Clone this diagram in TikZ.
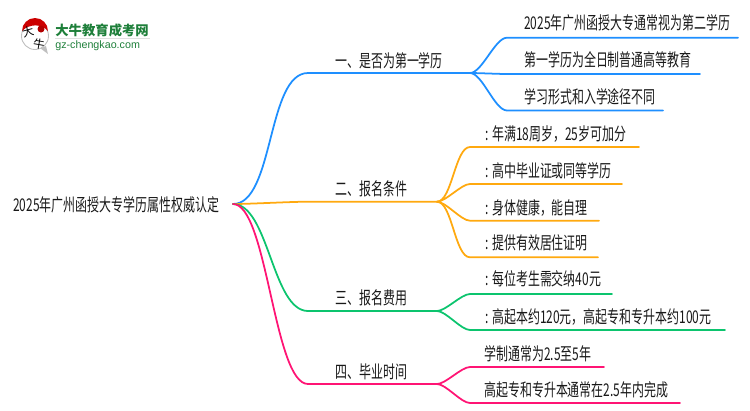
\documentclass[tikz,border=0pt]{standalone}
\usepackage{fontspec}
\setmainfont[FakeStretch=0.68]{Noto Sans CJK SC}
\newfontfamily\logofont{Noto Sans CJK SC}
\newfontfamily\latinfont{Liberation Sans}
\usepackage{tikz}
\definecolor{mapblue}{HTML}{1E8FFF}
\definecolor{maporange}{HTML}{FFA90F}
\definecolor{mapgreen}{HTML}{0CC46E}
\definecolor{mappink}{HTML}{FF1474}
\definecolor{logogreen}{HTML}{1E7F3A}

\begin{document}
\begin{tikzpicture}[x=0.02cm,y=-0.02cm]
            \tikzset{txt/.style = {anchor=west, inner sep=0pt, font=\fontsize{10pt}{12pt}\selectfont, text=black!90}}
            \tikzset{edge/.style = {line width=1pt, line cap=round}}
            \tikzset{fork/.style = {out=0, in=180, looseness=0.6}}
            \useasboundingbox (0,0) rectangle (750,410);
            % logo
            \fill[black!25] (40,48) -- (48,54) -- (46,46) -- cycle;
            \draw[black!25,fill=white,line width=0.5pt] (35,36) circle (13.5);
            \fill[red!80!black] (22,31) arc (180:360:13) .. controls (42,24) and (30,23) .. (22,31) -- cycle;
            \fill[red!70!black] (41,29) circle (3.5);
            \node[inner sep=0pt, rotate=15, font=\logofont\fontsize{6.5pt}{7pt}\selectfont] (logoa) at (28,32) {大};
            \node[inner sep=0pt, rotate=-10, font=\logofont\fontsize{6.5pt}{7pt}\selectfont] (logob) at (39,44) {牛};
            \node[anchor=west, inner sep=0pt, text=logogreen, font=\logofont\bfseries\fontsize{7.6pt}{8pt}\selectfont] (logotitle) at (55,30) {大牛教育成考网};
            \node[anchor=west, inner sep=0pt, text=logogreen, font=\latinfont\fontsize{6.1pt}{8pt}\selectfont] (logourl) at (55,45.5) {gz-chengkao.com};
            \draw[black!12,line width=0.6pt] (55,38.5) -- (150,38.5);
            % root and branches
            \node[txt] (root) at (13,205) {2025年广州函授大专学历属性权威认定};
            \node[txt] (one) at (335,61) {一、是否为第一学历};
            \node[txt] (two) at (335,189) {二、报名条件};
            \node[txt] (three) at (335,298) {三、报名费用};
            \node[txt] (four) at (335,372) {四、毕业时间};
            % leaves
            \node[txt] (a) at (524,23) {2025年广州函授大专通常视为第二学历};
            \node[txt] (b) at (524,60) {第一学历为全日制普通高等教育};
            \node[txt] (c) at (524,97) {学习形式和入学途径不同};
            \node[txt] (d) at (485,134) {: 年满18周岁，25岁可加分};
            \node[txt] (e) at (485,171) {: 高中毕业证或同等学历};
            \node[txt] (f) at (485,208) {: 身体健康，能自理};
            \node[txt] (g) at (485,243) {: 提供有效居住证明};
            \node[txt] (h) at (485,279) {: 每位考生需交纳40元};
            \node[txt] (i) at (485,317) {: 高起本约120元，高起专和专升本约100元};
            \node[txt] (j) at (484,354) {学制通常为2.5至5年};
            \node[txt] (k) at (484,390) {高起专和专升本通常在2.5年内完成};
            % line points
            \coordinate (r) at (233,204);
            \coordinate (onel) at (308,73);   \coordinate (oner) at (470,73);
            \coordinate (twol) at (308,201.7);  \coordinate (twor) at (437,201.7);
            \coordinate (threel) at (308,311); \coordinate (threer) at (437,311);
            \coordinate (fourl) at (308,384);  \coordinate (fourr) at (437,384);
            \coordinate (as) at (507,37.7);  \coordinate (ae) at (738,37.7);
            \coordinate (bs) at (507,74);    \coordinate (be) at (700,74);
            \coordinate (cs) at (507,110.5); \coordinate (ce) at (663,110.5);
            \coordinate (ds) at (470,147);   \coordinate (de) at (639,147);
            \coordinate (es) at (470,184);   \coordinate (ee) at (622,184);
            \coordinate (fs) at (470,220.7); \coordinate (fe) at (599,220.7);
            \coordinate (gs) at (470,257.3); \coordinate (ge) at (598,257.3);
            \coordinate (hs) at (470,294);   \coordinate (he) at (612,294);
            \coordinate (is) at (470,330);   \coordinate (ie) at (725,330);
            \coordinate (js) at (470,367);   \coordinate (je) at (604,367);
            \coordinate (ks) at (470,403);   \coordinate (ke) at (680,403);
            % edges
            \draw[edge,mapblue] (r) to[out=0,in=180,looseness=0.7] (onel) -- (oner);
            \draw[edge,mapblue] (oner) to[fork] (as) -- (ae);
            \draw[edge,mapblue] (oner) to[fork] (bs) -- (be);
            \draw[edge,mapblue] (oner) to[fork] (cs) -- (ce);
            \draw[edge,maporange] (r) to[fork] (twol) -- (twor);
            \draw[edge,maporange] (twor) to[fork] (ds) -- (de);
            \draw[edge,maporange] (twor) to[fork] (es) -- (ee);
            \draw[edge,maporange] (twor) to[fork] (fs) -- (fe);
            \draw[edge,maporange] (twor) to[fork] (gs) -- (ge);
            \draw[edge,mapgreen] (r) to[out=0,in=180,looseness=0.7] (threel) -- (threer);
            \draw[edge,mapgreen] (threer) to[fork] (hs) -- (he);
            \draw[edge,mapgreen] (threer) to[fork] (is) -- (ie);
            \draw[edge,mappink] (r) to[out=0,in=180,looseness=0.45] (fourl) -- (fourr);
            \draw[edge,mappink] (fourr) to[fork] (js) -- (je);
            \draw[edge,mappink] (fourr) to[fork] (ks) -- (ke);
        \end{tikzpicture}
\end{document}
